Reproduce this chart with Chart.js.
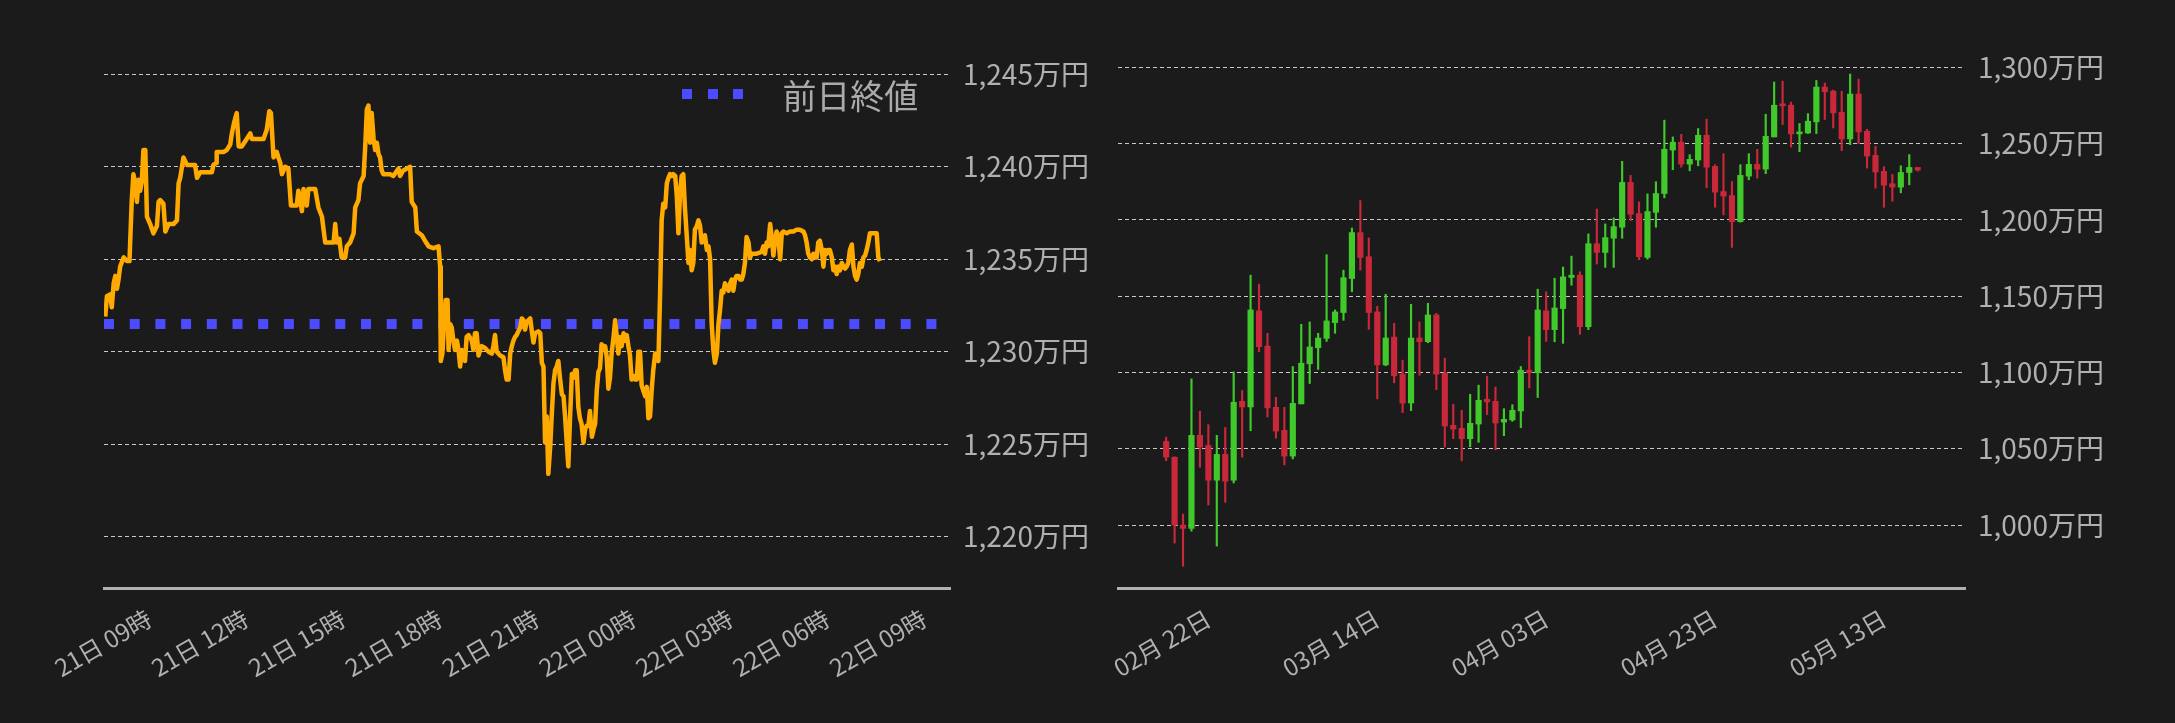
<!DOCTYPE html>
<html lang="ja">
<head>
<meta charset="utf-8">
<title>価格チャート</title>
<script src="https://cdn.jsdelivr.net/npm/chart.js@4.4.1/dist/chart.umd.min.js"></script>
<style>
  html, body { margin: 0; padding: 0; background: #1b1b1b; }
  #wrap { position: relative; width: 2175px; height: 723px; overflow: hidden; }
  #cvDay { position: absolute; left: 0; top: 0; }
  #cvDaily { position: absolute; left: 1100px; top: 0; }
  .legend { position: absolute; left: 682px; top: 76px; height: 36px; display: flex; align-items: center;
            font-family: 'Noto Sans CJK JP', sans-serif; font-size: 34px; color: #aaaaaa; }
  .legend i { display: inline-block; width: 10px; height: 10px; background: #4b4bff; margin-right: 15.7px; }
  .legend i.last { margin-right: 39px; }
</style>
</head>
<body>
<div id="wrap">
  <canvas id="cvDay" width="1100" height="723"></canvas>
  <canvas id="cvDaily" width="1075" height="723"></canvas>
  <div class="legend"><i></i><i></i><i class="last"></i><span>前日終値</span></div>
</div>
<script>
// 左: 1日の値動き（21日 0時からの経過時間, 万円）
const timeLabels = ['21日 09時', '21日 12時', '21日 15時', '21日 18時', '21日 21時', '22日 00時', '22日 03時', '22日 06時', '22日 09時'];
const timeTicks = [9, 12, 15, 18, 21, 24, 27, 30, 33];
const prevClose = 1231.5;
const dayPrices = [
  [7.64,1231.9],[7.69,1233.0],[7.79,1233.1],[7.84,1232.4],[7.90,1233.7],[7.95,1234.1],[8.00,1233.4],[8.05,1233.9],
  [8.10,1234.6],[8.21,1235.1],[8.31,1234.9],[8.39,1234.9],[8.41,1235.9],[8.46,1238.2],[8.51,1239.6],[8.57,1239.1],
  [8.62,1238.1],[8.67,1239.3],[8.72,1238.7],[8.77,1239.2],[8.82,1240.9],[8.88,1240.9],[8.93,1237.3],[9.03,1236.9],
  [9.13,1236.4],[9.24,1236.8],[9.29,1238.1],[9.34,1238.2],[9.44,1238.0],[9.50,1236.5],[9.60,1236.9],[9.75,1236.9],
  [9.86,1237.1],[9.91,1239.1],[9.96,1239.4],[10.06,1240.5],[10.17,1240.1],[10.42,1240.1],[10.48,1239.4],[10.58,1239.7],
  [10.94,1239.7],[10.99,1240.1],[11.07,1240.2],[11.09,1240.8],[11.30,1240.8],[11.40,1240.9],[11.51,1241.2],[11.56,1241.8],
  [11.63,1242.4],[11.71,1242.9],[11.77,1241.1],[11.87,1241.1],[12.02,1241.5],[12.13,1241.8],[12.18,1241.5],[12.54,1241.5],
  [12.64,1242.0],[12.72,1243.0],[12.77,1242.9],[12.85,1240.5],[12.95,1240.8],[13.00,1240.5],[13.06,1240.2],[13.11,1239.6],
  [13.21,1240.0],[13.31,1239.9],[13.39,1237.9],[13.57,1237.9],[13.62,1238.7],[13.67,1238.3],[13.73,1237.6],[13.78,1238.8],
  [13.88,1237.9],[13.93,1238.8],[14.14,1238.8],[14.24,1237.8],[14.35,1237.3],[14.45,1235.9],[14.71,1235.9],[14.76,1236.9],
  [14.81,1235.9],[14.89,1236.1],[14.96,1235.1],[15.07,1235.1],[15.12,1235.7],[15.22,1235.9],[15.33,1236.4],[15.38,1237.8],
  [15.48,1238.2],[15.53,1239.1],[15.64,1239.5],[15.69,1241.1],[15.74,1243.1],[15.79,1243.3],[15.84,1241.3],[15.89,1242.9],
  [15.95,1241.5],[16.00,1240.9],[16.05,1241.3],[16.10,1240.7],[16.15,1240.5],[16.20,1239.8],[16.25,1239.6],[16.46,1239.6],
  [16.56,1239.5],[16.72,1239.9],[16.77,1239.5],[16.87,1239.8],[17.08,1240.0],[17.13,1238.1],[17.24,1237.8],[17.29,1236.5],
  [17.44,1236.3],[17.54,1236.0],[17.65,1235.7],[17.80,1235.6],[17.96,1235.7],[18.01,1234.6],[18.03,1229.5],[18.08,1229.9],
  [18.13,1231.5],[18.18,1232.8],[18.24,1232.8],[18.27,1230.1],[18.32,1231.5],[18.37,1231.3],[18.42,1230.6],[18.47,1230.1],
  [18.53,1230.6],[18.58,1230.1],[18.63,1229.2],[18.68,1230.1],[18.73,1229.9],[18.78,1229.5],[18.83,1230.8],[18.89,1230.9],
  [18.99,1230.6],[19.04,1230.1],[19.09,1231.0],[19.14,1231.0],[19.20,1229.8],[19.25,1230.1],[19.30,1230.3],[19.40,1230.2],
  [19.51,1230.0],[19.61,1229.9],[19.66,1230.3],[19.71,1230.9],[19.76,1230.0],[19.87,1229.8],[19.97,1229.7],[20.02,1229.0],
  [20.07,1228.5],[20.13,1228.5],[20.18,1229.9],[20.23,1230.3],[20.28,1230.6],[20.33,1230.8],[20.38,1230.9],[20.43,1231.1],
  [20.49,1231.3],[20.54,1231.8],[20.59,1231.7],[20.64,1231.2],[20.69,1231.6],[20.74,1231.7],[20.80,1231.8],[20.85,1231.1],
  [20.90,1230.5],[20.95,1231.0],[21.05,1231.1],[21.11,1231.0],[21.16,1229.4],[21.21,1229.2],[21.26,1225.1],[21.31,1226.5],
  [21.36,1223.4],[21.42,1224.9],[21.47,1226.7],[21.52,1228.3],[21.57,1229.0],[21.62,1229.2],[21.67,1229.5],[21.72,1228.6],
  [21.78,1227.7],[21.83,1227.6],[21.88,1226.5],[21.93,1225.1],[21.98,1223.8],[22.03,1226.3],[22.09,1228.8],[22.14,1228.6],
  [22.19,1229.0],[22.24,1229.0],[22.29,1227.0],[22.34,1226.4],[22.39,1226.1],[22.45,1225.1],[22.50,1225.8],[22.55,1226.0],
  [22.60,1226.0],[22.65,1226.8],[22.71,1225.4],[22.76,1225.8],[22.81,1226.1],[22.86,1227.9],[22.91,1228.9],[22.96,1229.1],
  [23.01,1230.4],[23.07,1230.3],[23.12,1230.3],[23.17,1229.7],[23.22,1228.0],[23.27,1228.6],[23.32,1229.9],[23.38,1230.8],
  [23.43,1231.7],[23.48,1230.8],[23.53,1229.9],[23.58,1230.8],[23.63,1230.3],[23.69,1231.0],[23.74,1230.6],[23.79,1230.9],
  [23.84,1230.3],[23.89,1229.8],[23.94,1228.5],[23.99,1228.7],[24.05,1228.5],[24.10,1228.5],[24.15,1230.0],[24.20,1230.0],
  [24.25,1228.2],[24.30,1227.9],[24.36,1227.6],[24.41,1228.1],[24.46,1226.4],[24.51,1226.5],[24.56,1227.9],[24.61,1229.0],
  [24.67,1229.9],[24.72,1229.8],[24.77,1229.5],[24.82,1233.0],[24.87,1237.1],[24.92,1238.0],[24.98,1237.8],[25.03,1239.1],
  [25.08,1239.4],[25.13,1239.6],[25.18,1239.5],[25.23,1239.6],[25.29,1239.5],[25.34,1238.4],[25.39,1236.4],[25.44,1238.6],
  [25.49,1239.5],[25.54,1239.6],[25.59,1237.8],[25.65,1236.2],[25.70,1234.8],[25.75,1235.5],[25.80,1234.4],[25.85,1234.8],
  [25.90,1236.6],[25.96,1236.8],[26.01,1237.1],[26.06,1236.8],[26.11,1235.9],[26.16,1236.0],[26.21,1236.3],[26.27,1235.5],
  [26.32,1235.7],[26.37,1235.0],[26.42,1231.5],[26.47,1230.1],[26.52,1229.4],[26.58,1229.9],[26.63,1231.5],[26.68,1232.3],
  [26.73,1233.3],[26.78,1233.2],[26.83,1233.7],[26.88,1233.5],[26.94,1233.3],[26.99,1233.7],[27.04,1233.9],[27.09,1233.3],
  [27.14,1233.9],[27.19,1234.1],[27.25,1234.1],[27.30,1233.9],[27.35,1233.9],[27.40,1234.2],[27.45,1234.8],[27.50,1236.2],
  [27.56,1235.9],[27.61,1235.1],[27.66,1235.3],[27.71,1235.3],[27.81,1235.3],[27.97,1235.4],[28.02,1235.7],[28.07,1235.3],
  [28.12,1235.9],[28.17,1235.7],[28.23,1236.9],[28.28,1236.2],[28.33,1235.2],[28.38,1236.0],[28.43,1236.5],[28.48,1236.2],
  [28.54,1235.0],[28.59,1236.4],[28.64,1236.5],[28.74,1236.4],[28.85,1236.5],[28.95,1236.5],[29.05,1236.6],[29.15,1236.6],
  [29.26,1236.5],[29.31,1236.3],[29.36,1235.9],[29.41,1235.3],[29.46,1235.1],[29.52,1235.0],[29.57,1235.3],[29.62,1235.1],
  [29.67,1235.1],[29.72,1235.9],[29.77,1236.0],[29.83,1235.5],[29.88,1234.6],[29.93,1235.5],[29.98,1235.3],[30.03,1235.5],
  [30.08,1235.5],[30.14,1235.1],[30.19,1234.4],[30.24,1234.6],[30.29,1234.2],[30.34,1234.6],[30.39,1234.4],[30.45,1234.8],
  [30.50,1234.6],[30.55,1234.5],[30.60,1234.6],[30.65,1234.8],[30.70,1235.5],[30.76,1235.8],[30.81,1234.6],[30.86,1234.1],
  [30.91,1233.9],[30.96,1234.2],[31.01,1234.8],[31.07,1234.6],[31.12,1235.1],[31.17,1235.2],[31.22,1235.5],[31.27,1235.9],
  [31.32,1236.4],[31.43,1236.4],[31.53,1236.4],[31.58,1235.1],[31.63,1234.9]
];

// 右: 日足（02月17日 = 0 日目, 万円）
const dateLabels = ['02月 22日', '03月 14日', '04月 03日', '04月 23日', '05月 13日'];
const dateTicks = [5, 25, 45, 65, 85];
const opens = [
  1054.8, 1044.5, 1000.0, 997.8, 1058.8, 1052.2, 1029.4, 1046.3, 1029.4, 1081.1,
  1077.4, 1140.4, 1117.3, 1077.2, 1062.1, 1045.2, 1079.4, 1105.7, 1116.2, 1122.4,
  1132.7, 1139.3, 1161.6, 1191.7, 1175.9, 1139.7, 1105.0, 1123.2, 1098.9, 1080.0,
  1122.6, 1120.2, 1137.7, 1099.6, 1065.4, 1063.4, 1056.6, 1066.2, 1082.5, 1081.1,
  1067.5, 1068.9, 1074.8, 1101.5, 1099.8, 1140.4, 1128.1, 1141.9, 1162.3, 1163.8,
  1130.0, 1184.4, 1178.7, 1188.0, 1195.2, 1224.6, 1204.2, 1175.4, 1205.0, 1217.3,
  1245.8, 1250.9, 1236.6, 1239.3, 1255.5, 1235.1, 1218.6, 1216.0, 1198.9, 1228.7,
  1236.4, 1233.3, 1254.4, 1275.9, 1275.2, 1256.4, 1257.0, 1264.3, 1287.1, 1284.4,
  1270.6, 1253.1, 1282.5, 1258.1, 1242.3, 1231.8, 1223.7, 1221.5, 1231.1, 1234.4
];
const highs = [
  1057.7, 1044.7, 1007.2, 1095.8, 1074.6, 1065.8, 1058.8, 1064.0, 1100.4, 1088.2,
  1163.8, 1157.9, 1125.7, 1083.8, 1077.2, 1103.9, 1131.6, 1133.1, 1125.7, 1177.2,
  1141.0, 1167.1, 1194.7, 1212.7, 1188.2, 1143.4, 1151.3, 1132.2, 1108.1, 1144.7,
  1133.1, 1145.4, 1138.8, 1109.4, 1079.2, 1075.2, 1085.7, 1091.7, 1097.6, 1090.4,
  1076.3, 1078.9, 1103.9, 1123.5, 1154.6, 1152.9, 1161.8, 1169.1, 1176.3, 1166.0,
  1190.8, 1207.2, 1197.4, 1201.3, 1238.4, 1229.2, 1211.8, 1217.1, 1225.0, 1265.4,
  1254.4, 1256.1, 1242.8, 1259.9, 1266.0, 1236.2, 1243.4, 1225.2, 1236.2, 1243.4,
  1246.3, 1269.3, 1290.4, 1291.0, 1277.2, 1263.2, 1269.7, 1291.4, 1289.7, 1285.1,
  1284.4, 1295.6, 1292.3, 1259.4, 1248.2, 1234.9, 1229.8, 1235.5, 1242.8, 1234.4
];
const lows = [
  1042.1, 988.2, 973.0, 996.0, 1037.9, 1013.2, 986.2, 1014.9, 1027.6, 1044.5,
  1061.8, 1113.6, 1070.8, 1057.0, 1039.5, 1043.4, 1079.4, 1092.8, 1102.0, 1120.4,
  1125.7, 1134.2, 1152.9, 1167.1, 1128.3, 1082.7, 1104.4, 1093.2, 1073.7, 1075.0,
  1098.2, 1119.5, 1088.8, 1051.1, 1056.6, 1042.1, 1051.3, 1054.2, 1072.4, 1049.3,
  1058.6, 1068.0, 1063.8, 1089.9, 1083.6, 1120.4, 1120.1, 1119.1, 1157.2, 1125.0,
  1128.1, 1171.1, 1168.9, 1168.9, 1188.0, 1199.6, 1173.9, 1174.3, 1195.2, 1214.5,
  1232.9, 1234.6, 1232.2, 1235.5, 1221.1, 1208.3, 1203.3, 1182.0, 1198.5, 1226.3,
  1227.4, 1230.3, 1254.4, 1262.5, 1247.8, 1244.7, 1256.6, 1256.6, 1265.8, 1260.3,
  1245.4, 1249.3, 1250.0, 1234.0, 1220.8, 1208.3, 1212.3, 1217.8, 1223.0, 1232.0
];
const closes = [
  1044.5, 1000.0, 997.8, 1058.8, 1051.1, 1029.4, 1046.3, 1028.7, 1080.5, 1077.4,
  1141.0, 1116.9, 1076.8, 1061.6, 1045.2, 1079.8, 1106.1, 1116.7, 1122.6, 1133.8,
  1139.7, 1162.1, 1191.7, 1175.4, 1139.3, 1105.0, 1122.6, 1097.8, 1080.0, 1122.6,
  1120.2, 1137.7, 1098.9, 1064.9, 1062.9, 1056.6, 1066.7, 1081.8, 1080.7, 1066.9,
  1069.3, 1075.2, 1101.5, 1099.8, 1141.0, 1128.1, 1142.3, 1162.7, 1163.8, 1130.0,
  1184.4, 1178.7, 1188.4, 1195.6, 1224.6, 1203.7, 1175.9, 1205.5, 1217.3, 1246.3,
  1250.9, 1236.6, 1239.7, 1255.5, 1234.6, 1218.2, 1215.6, 1198.9, 1229.2, 1236.4,
  1233.3, 1254.8, 1275.2, 1274.8, 1256.4, 1257.5, 1264.7, 1287.1, 1284.0, 1270.2,
  1253.1, 1282.5, 1257.7, 1241.9, 1231.4, 1222.8, 1221.5, 1231.1, 1234.4, 1232.7
];

Chart.defaults.font.family = "'Noto Sans CJK JP', 'Noto Sans', sans-serif";
Chart.defaults.color = '#b0b0b0';

const yenTick = v => v.toLocaleString('en-US') + '万円';

// 1日チャート
new Chart(document.getElementById('cvDay'), {
    type: 'line',
    data: {
        datasets: [{
            label: '価格',
            data: dayPrices.map(p => ({ x: p[0], y: p[1] })),
            borderColor: '#ffaa00',
            borderWidth: 4.5,
            borderJoinStyle: 'round',
            pointRadius: 0,
            tension: 0
        }, {
            label: '前日終値',
            data: [{ x: 7.6, y: prevClose }, { x: 33.8, y: prevClose }],
            borderColor: '#4b4bff',
            borderWidth: 10,
            borderDash: [10, 15.7],
            borderCapStyle: 'butt',
            pointRadius: 0
        }]
    },
    options: {
        responsive: false,
        animation: false,
        layout: { padding: { left: 104, top: 50, right: 8, bottom: 0 } },
        plugins: { legend: { display: false }, tooltip: { enabled: false } },
        scales: {
            x: {
                type: 'linear', min: 7.6, max: 33.8, offset: false,
                grid: { display: false },
                border: { display: true, color: '#b0b0b0', width: 3 },
                afterBuildTicks: s => { s.ticks = timeTicks.map(v => ({ value: v })); },
                afterFit: s => { s.height = 135; },
                ticks: { autoSkip: false, minRotation: 30, maxRotation: 30, padding: 8, font: { size: 24 },
                         callback: (v, i) => timeLabels[i] }
            },
            y: {
                position: 'right', min: 1217.23, max: 1246.31,
                grid: { color: '#c8c8c8', lineWidth: 1, drawTicks: false },
                border: { display: false, dash: [4, 3] },
                afterFit: s => { s.width = 142; },
                ticks: { stepSize: 5, includeBounds: false, padding: 13, font: { size: 28 }, callback: yenTick }
            }
        }
    }
});

// 日足チャート
const upColor = '#41c92c';
const downColor = '#c8283a';
const candleColors = opens.map((o, i) => closes[i] >= o ? upColor : downColor);

new Chart(document.getElementById('cvDaily'), {
    type: 'bar',
    data: {
        datasets: [{
            label: '実体',
            data: opens.map((o, i) => ({ x: i, y: [o, closes[i]] })),
            backgroundColor: candleColors,
            barThickness: 5.5,
            minBarLength: 2,
            grouped: false
        }, {
            label: 'ヒゲ',
            data: lows.map((l, i) => ({ x: i, y: [l, highs[i]] })),
            backgroundColor: candleColors,
            barThickness: 1.5,
            grouped: false
        }]
    },
    options: {
        responsive: false,
        animation: false,
        layout: { padding: { left: 18, top: 50, right: 68, bottom: 0 } },
        plugins: { legend: { display: false }, tooltip: { enabled: false } },
        scales: {
            x: {
                type: 'linear', min: -5.7, max: 94.6, offset: false,
                grid: { display: false },
                border: { display: true, color: '#b0b0b0', width: 3 },
                afterBuildTicks: s => { s.ticks = dateTicks.map(v => ({ value: v })); },
                afterFit: s => { s.height = 135; },
                ticks: { autoSkip: false, minRotation: 30, maxRotation: 30, padding: 8, font: { size: 24 },
                         callback: (v, i) => dateLabels[i] }
            },
            y: {
                position: 'right', min: 958.75, max: 1311.38,
                grid: { color: '#c8c8c8', lineWidth: 1, drawTicks: false },
                border: { display: false, dash: [4, 3] },
                afterFit: s => { s.width = 142; },
                ticks: { stepSize: 50, includeBounds: false, padding: 13, font: { size: 28 }, callback: yenTick }
            }
        }
    }
});
</script>
</body>
</html>
